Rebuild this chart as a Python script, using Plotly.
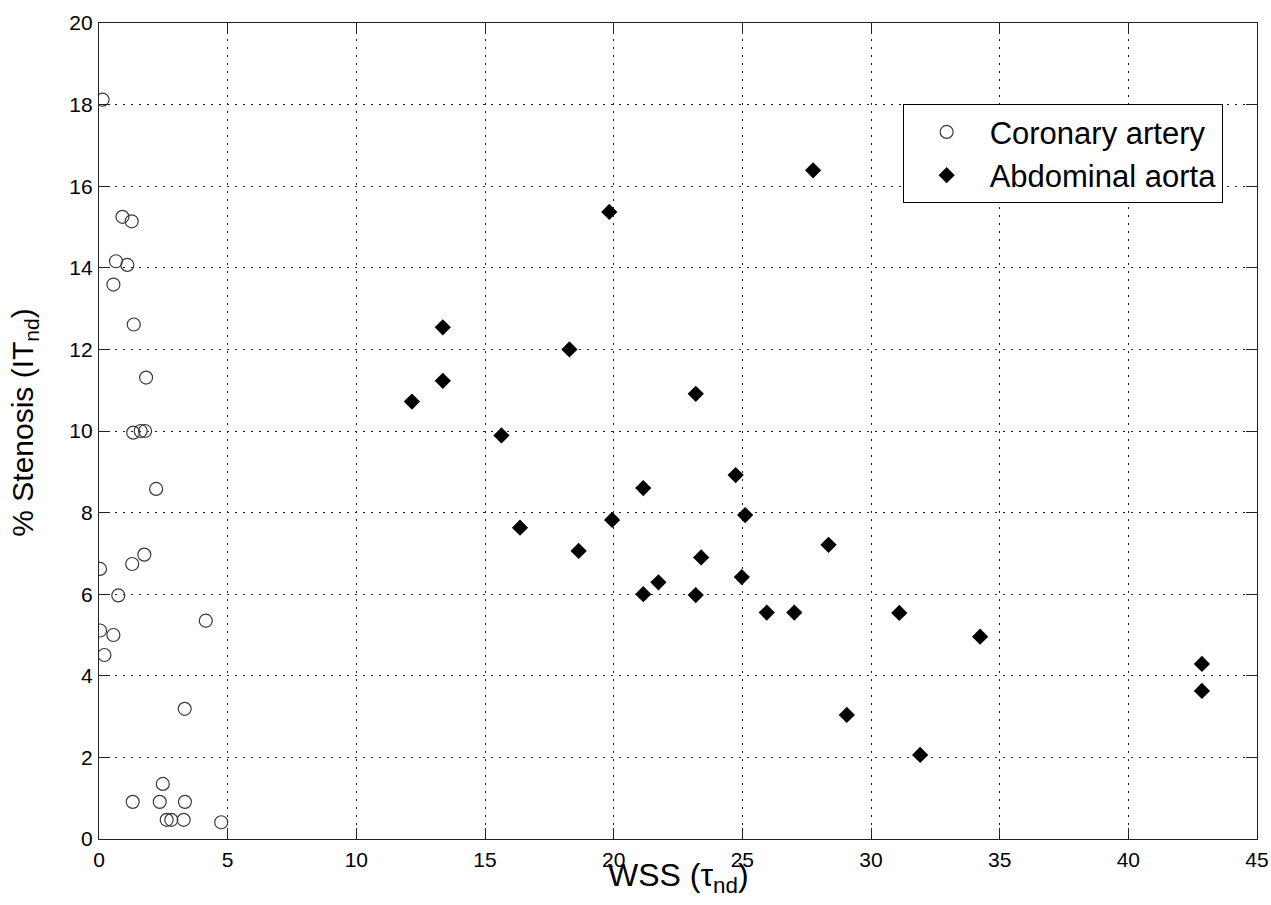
import plotly.graph_objects as go

# Coronary artery (open circles)
cor_wss = [0.14, 0.91, 1.27, 0.66, 1.10, 0.56, 1.35, 1.83, 1.33, 1.62, 1.79,
           2.22, 1.76, 1.29, 0.04, 0.75, 4.15, 0.04, 0.56, 0.21, 3.33, 2.48,
           1.31, 2.36, 3.34, 2.63, 2.81, 3.29, 4.75]
cor_sten = [18.12, 15.25, 15.14, 14.16, 14.07, 13.59, 12.61, 11.31, 9.96, 10.0, 10.0,
            8.58, 6.97, 6.74, 6.62, 5.97, 5.35, 5.11, 5.00, 4.51, 3.19, 1.35,
            0.91, 0.91, 0.91, 0.47, 0.47, 0.47, 0.41]

# Abdominal aorta (filled diamonds)
abd_wss = [12.16, 13.36, 13.36, 15.64, 16.36, 18.28, 18.64, 19.83, 19.94, 21.15,
           21.15, 21.74, 23.19, 23.40, 23.19, 24.74, 25.11, 24.98, 25.95, 27.02,
           27.75, 28.35, 29.06, 31.10, 31.91, 34.24, 42.86, 42.86]
abd_sten = [10.72, 12.54, 11.23, 9.89, 7.63, 12.00, 7.06, 15.37, 7.82, 8.60,
            6.00, 6.29, 10.91, 6.90, 5.98, 8.92, 7.94, 6.42, 5.55, 5.55,
            16.39, 7.21, 3.04, 5.54, 2.06, 4.96, 4.29, 3.63]

x_ticks = [0, 5, 10, 15, 20, 25, 30, 35, 40, 45]
y_ticks = [0, 2, 4, 6, 8, 10, 12, 14, 16, 18, 20]

FONT = "Liberation Sans, Arial, Helvetica, sans-serif"

fig = go.Figure()
fig.add_trace(go.Scatter(
    x=cor_wss, y=cor_sten, mode="markers", name="Coronary artery",
    marker=dict(symbol="circle-open", size=13, color="#3a3a3a",
                line=dict(width=1.2, color="#3a3a3a")),
))
fig.add_trace(go.Scatter(
    x=abd_wss, y=abd_sten, mode="markers", name="Abdominal aorta",
    marker=dict(symbol="diamond", size=12.5, color="black",
                line=dict(width=0)),
))

axis_common = dict(
    showgrid=True, gridcolor="#222222", gridwidth=1, griddash="2px,6px",
    showline=True, linecolor="#222222", linewidth=1.2, mirror="ticks",
    ticks="inside", ticklen=11, tickcolor="#222222", tickwidth=1,
    zeroline=False, automargin=False,
    tickfont=dict(family=FONT, size=21, color="black"),
)

fig.update_xaxes(range=[0, 45], tickmode="array", tickvals=x_ticks,
                 ticklabelstandoff=2, **axis_common)
fig.update_yaxes(range=[0, 20], tickmode="array", tickvals=y_ticks,
                 ticklabelstandoff=1, **axis_common)

fig.update_layout(
    width=1271, height=905, autosize=False,
    margin=dict(l=99, r=14, t=23, b=66),
    paper_bgcolor="white", plot_bgcolor="white",
    font=dict(family=FONT, color="black"),
    showlegend=True,
    legend=dict(x=0.694, y=0.9004, xanchor="left", yanchor="top",
                bgcolor="white", bordercolor="black", borderwidth=1,
                itemwidth=76, font=dict(family=FONT, size=31, color="black")),
    annotations=[
        dict(text="WSS (τ<sub>nd</sub>)", xref="paper", yref="paper",
             x=0.5, y=-0.02, xanchor="center", yanchor="top", showarrow=False,
             font=dict(family=FONT, size=32, color="black")),
        dict(text="% Stenosis (IT<sub>nd</sub>)", xref="paper", yref="paper",
             x=-0.064, y=0.51, xanchor="center", yanchor="middle", textangle=-90,
             showarrow=False, font=dict(family=FONT, size=30, color="black")),
    ],
)

fig.write_html(
    "out.html",
    config={"displayModeBar": False},
    post_script="document.body.style.margin='0';document.body.style.overflow='hidden';",
)
